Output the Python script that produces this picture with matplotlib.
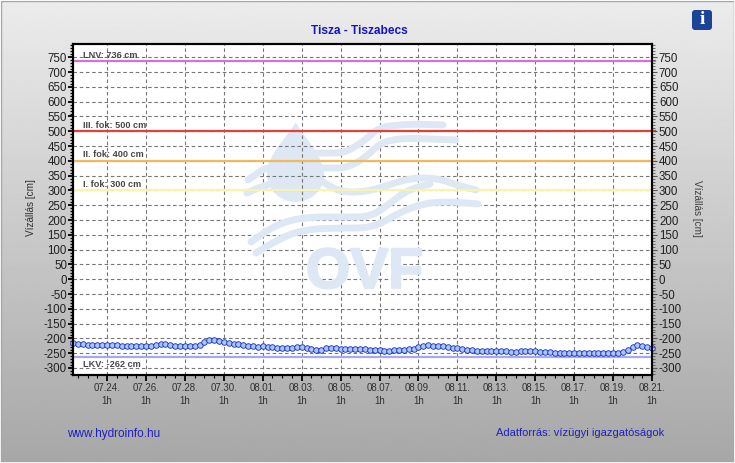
import numpy as np
import pandas as pd
import matplotlib
matplotlib.use('Agg')
import matplotlib.pyplot as plt
import matplotlib.patheffects as pe
from matplotlib.patches import FancyBboxPatch, PathPatch, Rectangle
from matplotlib.path import Path
from matplotlib.transforms import Affine2D
from matplotlib.ticker import MultipleLocator

plt.rcParams['font.family'] = ['Liberation Sans', 'DejaVu Sans']
plt.rcParams['axes.unicode_minus'] = False

# water level readings, one every 6 hours
levels_cm = [
    -215, -219, -220, -223, -223, -223, -223, -223, -223, -223,
    -224, -225, -225, -226, -226, -226, -225, -223, -220, -220,
    -223, -224, -225, -226, -227, -226, -222, -213, -205, -206,
    -210, -213, -217, -219, -220, -223, -225, -227, -228, -227,
    -230, -230, -232, -234, -234, -232, -229, -230, -233, -235,
    -238, -240, -234, -234, -234, -235, -235, -235, -236, -237,
    -237, -238, -238, -239, -242, -243, -240, -239, -239, -237,
    -236, -230, -225, -221, -224, -225, -227, -230, -234, -234,
    -236, -238, -240, -242, -242, -242, -242, -243, -243, -244,
    -245, -245, -244, -244, -244, -244, -246, -247, -247, -248,
    -248, -248, -248, -248, -248, -248, -248, -248, -248, -248,
    -248, -248, -248, -245, -240, -229, -221, -225, -229, -231,
]
last_reading = '2024-08-21 01:00'

# flood / low water levels
level_names = ['LNV: 736 cm', 'III. fok: 500 cm', 'II. fok: 400 cm', 'I. fok: 300 cm', 'LKV: -262 cm']
level_values = [736, 500, 400, 300, -262]
level_colors = ['#d470dc', '#e04040', '#f2b95c', '#f6f4ae', '#a8a8f0']

x_tick_days = ['07.24.', '07.26.', '07.28.', '07.30.', '08.01.', '08.03.', '08.05.', '08.07.',
               '08.09.', '08.11.', '08.13.', '08.15.', '08.17.', '08.19.', '08.21.']

W, H = 735, 463
fig = plt.figure(figsize=(W / 100, H / 100), dpi=100, facecolor='white')

# everything decorative is placed in picture pixels
px = Affine2D().scale(1 / W, -1 / H).translate(0, 1) + fig.transFigure

# grey background gradient
bg = fig.add_axes([0, 0, 1, 1], zorder=0)
bg.axis('off')
grad = np.linspace(0.925, 0.655, 256).reshape(-1, 1)
bg.imshow(grad, cmap='gray', vmin=0, vmax=1, aspect='auto', extent=[0, 1, 0, 1])
bg.add_patch(Rectangle((1, 1), W - 2, H - 2, transform=px, fill=False, ec='#a6a6a6', lw=1))
bg.add_patch(Rectangle((0, 0), W, H, transform=px, fill=False, ec='white', lw=1.2))

ax = fig.add_axes([73 / W, (H - 374.5) / H, 579 / W, 330.5 / H], zorder=2, facecolor='white')

# OVF watermark
logo = '#dde8f4'
drop = Path([(295.7, 122), (288, 137), (266, 155), (267, 175), (268, 192), (282, 202), (295.7, 202),
             (309, 202), (324, 192), (324, 175), (324, 155), (303, 137), (295.7, 122)],
            [Path.MOVETO] + [Path.CURVE4] * 12)
ax.add_patch(PathPatch(drop, transform=px, fc=logo, ec='none', zorder=0.5))
waves = [
    [(312, 153), (345, 153), (365, 140), (380, 127), (410, 124), (443, 125)],
    [(320, 168), (345, 168), (362, 160), (382, 142), (405, 138), (456, 140)],
    [(248, 180), (262, 170), (268, 168)],
    [(247, 193), (258, 188), (270, 184)],
    [(323, 182), (340, 192), (365, 192), (386, 186), (410, 178), (437, 178), (457, 185), (476, 190)],
    [(251, 242), (275, 225), (303, 217), (345, 217), (370, 217), (388, 205), (407, 190), (430, 184)],
    [(256, 253), (277, 240), (303, 229), (345, 228), (373, 228), (393, 216), (417, 205), (443, 201), (478, 204)],
]
kernel = np.ones(9) / 9
for wave in waves:
    xs, ys = zip(*wave)
    t = np.linspace(0, len(xs) - 1, 60)
    wx = np.interp(t, range(len(xs)), xs)
    wy = np.interp(t, range(len(ys)), ys)
    # soften the corners, keep the ends where they are
    wx[4:-4] = np.convolve(wx, kernel, mode='valid')
    wy[4:-4] = np.convolve(wy, kernel, mode='valid')
    ax.plot(wx, wy, transform=px, color=logo, lw=5, solid_capstyle='round', zorder=0.6)
ax.text(364.5, 288, 'OVF', transform=px, color=logo, fontsize=41, fontweight='bold',
        ha='center', va='baseline', zorder=0.7,
        path_effects=[pe.withStroke(linewidth=1.5, foreground=logo)])

# the measured series
times = pd.date_range(end=last_reading, periods=len(levels_cm), freq='6h')
for name, value, color in zip(level_names, level_values, level_colors):
    ax.axhline(value, xmax=1.005, color=color, lw=1.6, clip_on=False, zorder=2)
    offset = -2.5 if value < 0 else 1.2
    ax.annotate(name, xy=(0, value), xycoords=ax.get_yaxis_transform(), xytext=(7.2, offset),
                textcoords='offset points', fontsize=6.6, color='#484848', fontweight='bold',
                va='top' if value < 0 else 'bottom', zorder=3)
ax.plot(times, levels_cm, color='#1428d0', lw=1, marker='o', ms=4, mfc='#a9c8f6', mec='#1428d0',
        mew=0.6, clip_on=False, zorder=4)

ax.set_xlim(times[0], times[-1])
ax.set_ylim(-322, 795)

# x ticks, every 2nd day at 1h
x_ticks = pd.date_range(end=last_reading, periods=len(x_tick_days), freq='2D')
ax.set_xticks(x_ticks)
ax.set_xticklabels([d + '\n1h' for d in x_tick_days], fontsize=6.9, color='#303030', linespacing=1.4)
minor_x = pd.date_range(end=last_reading, periods=len(levels_cm) // 2, freq='12h')
ax.set_xticks(minor_x, minor=True)
ax.tick_params(axis='x', which='major', length=4.5, width=1.3, direction='out', pad=1.8)
ax.tick_params(axis='x', which='minor', length=2.5, width=0.8, direction='out')

# y ticks both sides
y_ticks = np.arange(-300, 751, 50)
ax.set_yticks(y_ticks)
ax.yaxis.set_minor_locator(MultipleLocator(10))
ax.tick_params(axis='y', which='major', length=3.5, width=1.3, labelsize=8.3, labelcolor='#202020', pad=0.8)
ax.tick_params(axis='y', which='minor', length=2, width=0.9)
ax.grid(True, which='major', color='#777777', ls=(0, (3.2, 2.4)), lw=0.8, zorder=1)
ax.set_axisbelow(True)

ax2 = ax.twinx()
ax2.set_ylim(ax.get_ylim())
ax2.set_yticks(y_ticks)
ax2.yaxis.set_minor_locator(MultipleLocator(10))
ax2.tick_params(axis='y', which='major', length=3.5, width=0.8, color='#555555', labelsize=8.3,
                labelcolor='#202020', pad=1.5)
ax2.tick_params(axis='y', which='minor', length=2, width=0.6, color='#555555')

for a in (ax, ax2):
    for s in a.spines.values():
        s.set_linewidth(1.5)
        s.set_color('black')

# texts
fig.text(31 / W, 1 - 208 / H, 'Vízállás [cm]', rotation=90, ha='center', va='center', fontsize=7.2, color='#303030')
fig.text(697 / W, 1 - 208 / H, 'Vízállás [cm]', rotation=270, ha='center', va='center', fontsize=7.2, color='#404040')
fig.text(359.5 / W, 1 - 30.5 / H, 'Tisza - Tiszabecs', ha='center', va='center', fontsize=8.6,
         fontweight='bold', color='#1414c8')
fig.text(67 / W, 1 - 433.5 / H, 'www.hydroinfo.hu', ha='left', va='center', fontsize=8.5, color='#2020c0')
fig.text(496 / W, 1 - 433.5 / H, 'Adatforrás: vízügyi igazgatóságok', ha='left', va='center', fontsize=8, color='#2020c0')

# info button
bg.add_patch(FancyBboxPatch((694, 12), 16, 16, boxstyle='round,pad=2,rounding_size=3', transform=px,
                            fc='#1c4496', ec='none', zorder=3))
bg.text(702, 20, 'i', transform=px, color='white', fontsize=14, fontweight='bold', family='Liberation Serif',
        ha='center', va='center', zorder=4)

fig.savefig('out.png', dpi=100)
